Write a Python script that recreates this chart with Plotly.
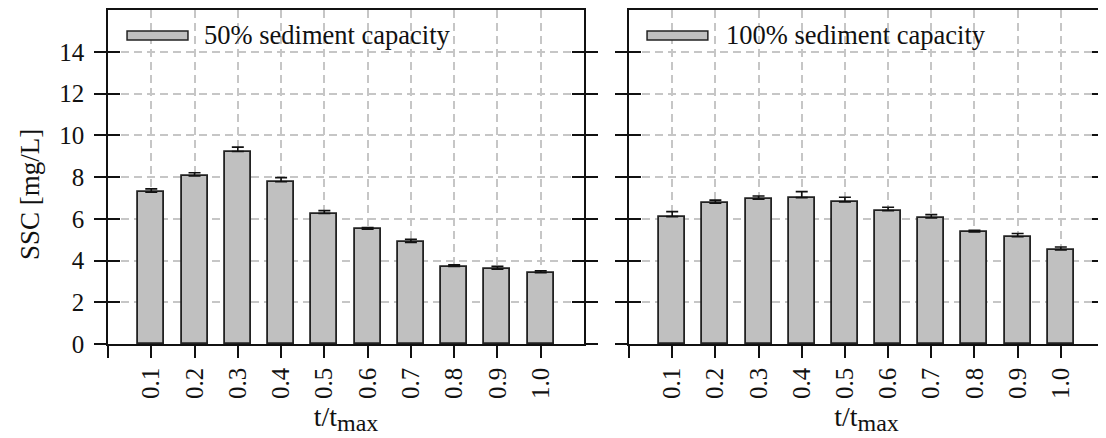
import plotly.graph_objects as go

t_pos = [0.1, 0.2, 0.3, 0.4, 0.5, 0.6, 0.7, 0.8, 0.9, 1.0]
ssc_50 = [7.27, 8.05, 9.22, 7.77, 6.25, 5.50, 4.87, 3.71, 3.58, 3.42]
err_50 = [0.16, 0.15, 0.21, 0.20, 0.14, 0.08, 0.15, 0.08, 0.14, 0.09]
ssc_100 = [6.10, 6.74, 6.94, 7.01, 6.81, 6.39, 6.04, 5.37, 5.14, 4.51]
err_100 = [0.24, 0.15, 0.15, 0.29, 0.22, 0.16, 0.16, 0.08, 0.15, 0.14]
x_tickvals = [0.1, 0.2, 0.3, 0.4, 0.5, 0.6, 0.7, 0.8, 0.9, 1.0]
x_ticktext = ["0.1", "0.2", "0.3", "0.4", "0.5", "0.6", "0.7", "0.8", "0.9", "1.0"]
x_origin_tick = [0.0]
y_tickvals = [0, 2, 4, 6, 8, 10, 12, 14]
series_names = ["50% sediment capacity", "100% sediment capacity"]
y_title = "SSC [mg/L]"
x_title = "t/t<sub><span style='font-size:24px'>max</span></sub>"

FONT = "Liberation Serif, Times New Roman, Times, DejaVu Serif, serif"
BAR_FILL = "#c0c0c0"
GRID = "#c6c6c6"
INK = "#111111"

fig = go.Figure()

def add_bars(y, err, xa, ya, name):
    fig.add_trace(go.Bar(
        x=t_pos, y=y, width=0.06, xaxis=xa, yaxis=ya, name=name,
        marker=dict(color=BAR_FILL, line=dict(color="#222222", width=1.8)),
        error_y=dict(type="data", symmetric=False, array=err,
                     arrayminus=[0] * len(err), color=INK,
                     thickness=1.6, width=6),
        showlegend=False,
    ))

add_bars(ssc_50, err_50, "x", "y", series_names[0])
add_bars(ssc_100, err_100, "x2", "y2", series_names[1])
# invisible anchors for the inside-tick overlay axes
fig.add_trace(go.Scatter(x=[0.5], y=[1], xaxis="x", yaxis="y3", mode="markers",
                         marker=dict(opacity=0), hoverinfo="skip", showlegend=False))
fig.add_trace(go.Scatter(x=[0.5], y=[1], xaxis="x2", yaxis="y4", mode="markers",
                         marker=dict(opacity=0), hoverinfo="skip", showlegend=False))

yrange = [0, 16]
xrange = [0, 1.1]

xcommon = dict(range=xrange, tickmode="array", tickvals=x_tickvals, ticktext=x_ticktext,
               tickangle=-90, ticks="outside", ticklen=12, tickwidth=1.5,
               tickcolor=INK, showline=True, linecolor=INK,
               linewidth=1.5, mirror=True, showgrid=True, gridcolor=GRID,
               griddash="8px,5px", gridwidth=1.5, zeroline=False,
               automargin=False,
               minor=dict(tickmode="array", tickvals=x_origin_tick, ticks="outside",
                          ticklen=12, tickwidth=1.5, tickcolor=INK, showgrid=False),
               tickfont=dict(family=FONT, size=25, color=INK),
               title=dict(text=x_title, standoff=8,
                          font=dict(family=FONT, size=28, color=INK)))
ycommon = dict(range=yrange, tickvals=y_tickvals, ticks="outside", ticklen=12,
               tickwidth=1.5, tickcolor=INK, showline=True,
               linecolor=INK, linewidth=1.5, mirror="ticks",
               showgrid=True, gridcolor=GRID, griddash="8px,5px",
               gridwidth=1.5, zeroline=False, automargin=False,
               tickfont=dict(family=FONT, size=25, color=INK))
yinside = dict(range=yrange, tickvals=y_tickvals, ticks="inside", ticklen=12,
               tickwidth=1.5, tickcolor=INK, showline=False, side="left",
               mirror="ticks", showgrid=False, zeroline=False,
               showticklabels=False, automargin=False)

d1 = [0.0, 0.4779]
d2 = [0.5231, 1.0]

# the page body adds an 8px offset, so the figure is 8px smaller and margins shifted
fig.update_layout(
    width=1098, height=430,
    margin=dict(l=100, r=2, t=2, b=94, autoexpand=False),
    paper_bgcolor="white", plot_bgcolor="white",
    font=dict(family=FONT, color=INK),
    bargap=0,
    xaxis=dict(domain=d1, anchor="y", **xcommon),
    xaxis2=dict(domain=d2, anchor="y2", **xcommon),
    yaxis=dict(domain=[0, 1], anchor="x", ticklabelstandoff=5, **ycommon),
    yaxis2=dict(domain=[0, 1], anchor="x2", showticklabels=False, **ycommon),
    yaxis3=dict(overlaying="y", anchor="x", **yinside),
    yaxis4=dict(overlaying="y2", anchor="x2", **yinside),
)

fig.add_annotation(xref="paper", yref="paper", x=-0.0783, y=0.446,
                   text=y_title, textangle=-90, showarrow=False,
                   xanchor="center", yanchor="middle",
                   font=dict(family=FONT, size=27, color=INK))

# legend boxes drawn inside each panel
legend_specs = [("x", "y", series_names[0], 0.040, 0.168, 0.197),
                ("x2", "y2", series_names[1], 0.038, 0.166, 0.200)]
for xa, ya, name, x0, x1, xt in legend_specs:
    fig.add_shape(type="rect", xref=f"{xa} domain", yref=f"{ya} domain",
                  x0=x0, x1=x1, y0=0.910, y1=0.937,
                  fillcolor=BAR_FILL, line=dict(color="#222222", width=1.5))
    fig.add_annotation(xref=f"{xa} domain", yref=f"{ya} domain", x=xt, y=0.924,
                       text=name, showarrow=False, xanchor="left", yanchor="middle",
                       font=dict(family=FONT, size=26.5, color=INK))

fig.write_html("out.html")
